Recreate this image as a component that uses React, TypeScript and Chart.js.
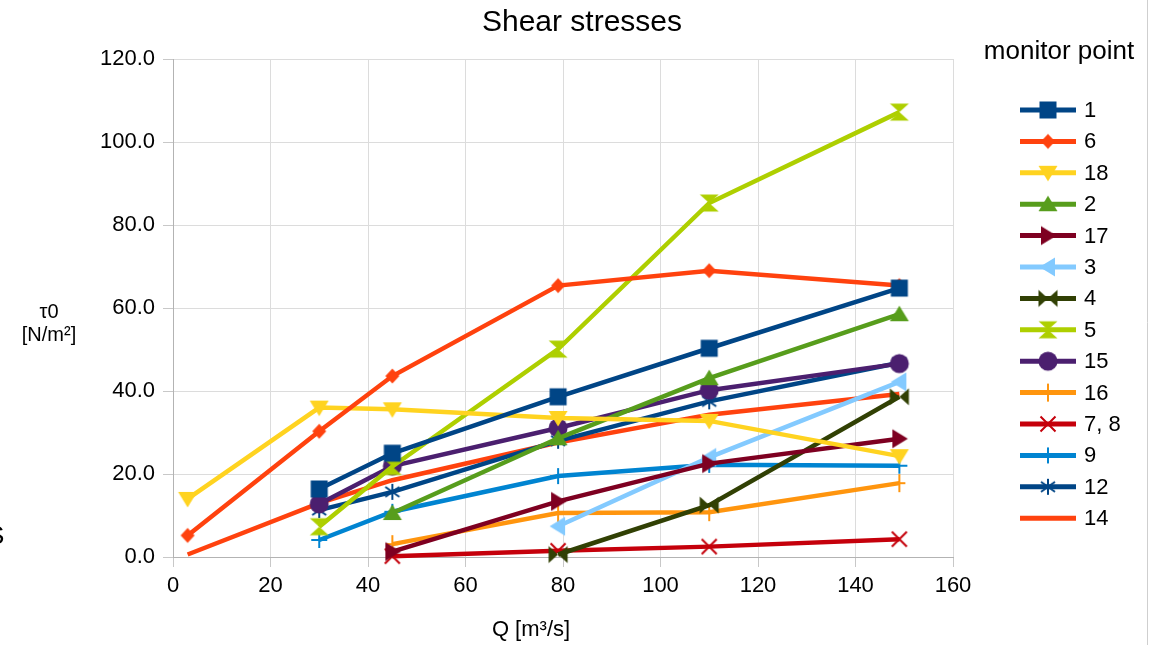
import React, { useEffect, useRef } from 'react';
import { Chart, registerables } from 'chart.js';

Chart.register(...registerables);

// ---- data ----
const discharge = [3, 30, 45, 79, 110, 149];
const xTickMin = 0;
const xTickMax = 160;
const xTickStep = 20;
const yTickMin = 0;
const yTickMax = 120;
const yTickStep = 20;

const tau1 = [null, 16.4, 25.0, 38.6, 50.3, 64.8];
const tau6 = [5.2, 30.3, 43.6, 65.4, 69.0, 65.4];
const tau18 = [14.0, 36.0, 35.6, 33.5, 32.8, 24.3];
const tau2 = [null, null, 10.6, 28.6, 43.1, 58.5];
const tau17 = [null, null, 1.3, 13.4, 22.5, 28.5];
const tau3 = [null, null, null, 7.4, 24.0, 42.2];
const tau4 = [null, null, null, 0.6, 12.5, 38.6];
const tau5 = [null, 7.3, 21.8, 50.1, 85.3, 107.2];
const tau15 = [null, 12.8, 21.9, 31.1, 40.2, 46.6];
const tau16 = [null, null, 3.1, 10.6, 10.8, 17.8];
const tau7_8 = [null, null, 0.2, 1.5, 2.5, 4.3];
const tau9 = [null, 4.1, 10.9, 19.5, 22.2, 22.0];
const tau12 = [null, 11.3, 15.7, 28.0, 37.5, 46.8];
const tau14 = [0.6, 13.0, 18.5, 27.6, 34.3, 39.3];

const seriesLabels = ['1', '6', '18', '2', '17', '3', '4', '5', '15', '16', '7, 8', '9', '12', '14'];
const seriesValues = [tau1, tau6, tau18, tau2, tau17, tau3, tau4, tau5, tau15, tau16, tau7_8, tau9, tau12, tau14];
const seriesColors = ['#004586', '#ff420e', '#ffd320', '#579d1c', '#7e0021', '#83caff', '#314004', '#aecf00', '#4b1f6f', '#ff950e', '#c5000b', '#0084d1', '#004586', '#ff420e'];
const seriesMarkers = ['square', 'diamond', 'triDown', 'triUp', 'triRight', 'triLeft', 'bowtie', 'hourglass', 'circle', 'plusTall', 'x', 'plus', 'asterisk', 'none'];

const chartTitle = 'Shear stresses';
const legendTitle = 'monitor point';
const yTitleLines = ['τ0', '[N/m²]'];
const xTitle = 'Q [m³/s]';

const FONT = '"Liberation Sans", Arial, sans-serif';

function poly(g: CanvasRenderingContext2D, pts: number[][]) {
  g.beginPath();
  g.moveTo(pts[0][0], pts[0][1]);
  for (let i = 1; i < pts.length; i++) g.lineTo(pts[i][0], pts[i][1]);
  g.closePath();
  g.fill();
}

function lines(g: CanvasRenderingContext2D, segs: number[][]) {
  g.beginPath();
  for (const s of segs) {
    g.moveTo(s[0], s[1]);
    g.lineTo(s[2], s[3]);
  }
  g.stroke();
}

function makeMarker(kind: string, color: string): HTMLCanvasElement | null {
  if (kind === 'none') return null;
  const S = 24;
  const c = document.createElement('canvas');
  c.width = S;
  c.height = S;
  const g = c.getContext('2d')!;
  g.translate(S / 2, S / 2);
  g.fillStyle = color;
  g.strokeStyle = color;
  g.lineWidth = 2;
  switch (kind) {
    case 'square':
      g.fillRect(-8.5, -8.5, 17, 17);
      break;
    case 'diamond':
      poly(g, [[0, -7.5], [7, 0], [0, 7.5], [-7, 0]]);
      break;
    case 'triDown':
      poly(g, [[-9.5, -7], [9.5, -7], [0, 8.5]]);
      break;
    case 'triUp':
      poly(g, [[-9.5, 7], [9.5, 7], [0, -8.5]]);
      break;
    case 'triRight':
      poly(g, [[-7, -9.5], [-7, 9.5], [8.5, 0]]);
      break;
    case 'triLeft':
      poly(g, [[7, -9.5], [7, 9.5], [-8.5, 0]]);
      break;
    case 'bowtie':
      poly(g, [[-9.5, -8.5], [0, 0], [-9.5, 8.5]]);
      poly(g, [[9.5, -8.5], [0, 0], [9.5, 8.5]]);
      break;
    case 'hourglass':
      poly(g, [[-9.5, -8.5], [9.5, -8.5], [0, 0]]);
      poly(g, [[-9.5, 8.5], [9.5, 8.5], [0, 0]]);
      break;
    case 'circle':
      g.beginPath();
      g.arc(0, 0, 9.5, 0, Math.PI * 2);
      g.fill();
      break;
    case 'plusTall':
      lines(g, [[-6, 0, 6, 0], [0, -9, 0, 9]]);
      break;
    case 'plus':
      lines(g, [[-8, 0, 8, 0], [0, -8, 0, 8]]);
      break;
    case 'x':
      lines(g, [[-7.5, -7.5, 7.5, 7.5], [-7.5, 7.5, 7.5, -7.5]]);
      break;
    case 'asterisk':
      lines(g, [[0, -8, 0, 8], [-7, -5, 7, 5], [-7, 5, 7, -5]]);
      break;
  }
  return c;
}

export default function App() {
  const ref = useRef<HTMLCanvasElement | null>(null);

  useEffect(() => {
    if (!ref.current) return;
    const markers = seriesMarkers.map((m, i) => makeMarker(m, seriesColors[i]));

    const datasets = seriesLabels.map((label, i) => ({
      label,
      data: discharge
        .map((q, j) => ({ x: q, y: seriesValues[i][j] }))
        .filter((p) => p.y !== null),
      borderColor: seriesColors[i],
      backgroundColor: seriesColors[i],
      borderWidth: 4.5,
      pointStyle: markers[i] || 'circle',
      pointRadius: markers[i] ? 9 : 0,
      pointHoverRadius: markers[i] ? 9 : 0,
      tension: 0,
      clip: false as any,
      showLine: true,
    }));

    const decorations = {
      id: 'decorations',
      afterDraw(chart: any) {
        const ctx = chart.ctx as CanvasRenderingContext2D;
        const a = chart.chartArea;
        ctx.save();
        ctx.fillStyle = '#000';

        // title
        ctx.font = `30px ${FONT}`;
        ctx.textAlign = 'center';
        ctx.textBaseline = 'middle';
        ctx.fillText(chartTitle, chart.width / 2 + 3, 23);

        // y axis title
        ctx.font = `20px ${FONT}`;
        const ym = (a.top + a.bottom) / 2;
        ctx.fillText(yTitleLines[0], a.left - 124, ym + 4);
        ctx.fillText(yTitleLines[1], a.left - 124, ym + 27);

        // x axis title
        ctx.font = `22px ${FONT}`;
        ctx.fillText(xTitle, a.left + 358, a.bottom + 73);

        // legend
        ctx.font = `26px ${FONT}`;
        ctx.fillText(legendTitle, a.right + 106, 52);
        ctx.font = `22px ${FONT}`;
        ctx.textAlign = 'left';
        const x0 = a.right + 67;
        const x1 = a.right + 123;
        seriesLabels.forEach((lab, i) => {
          const y = 110 + i * 31.4;
          ctx.strokeStyle = seriesColors[i];
          ctx.lineWidth = 5;
          ctx.beginPath();
          ctx.moveTo(x0, y);
          ctx.lineTo(x1, y);
          ctx.stroke();
          const mk = markers[i];
          if (mk) ctx.drawImage(mk, (x0 + x1) / 2 - mk.width / 2, y - mk.height / 2);
          ctx.fillStyle = '#000';
          ctx.fillText(lab, a.right + 131, y + 1);
        });

        // right border line
        ctx.strokeStyle = '#cfcfcf';
        ctx.lineWidth = 1;
        ctx.beginPath();
        ctx.moveTo(1147.5, 0);
        ctx.lineTo(1147.5, chart.height);
        ctx.stroke();

        // clipped fragment at left edge
        ctx.font = `26px ${FONT}`;
        ctx.textAlign = 'left';
        ctx.fillStyle = '#000';
        ctx.fillText('S', -13, 537);
        ctx.restore();
      },
    };

    const chart = new Chart(ref.current, {
      type: 'scatter',
      data: { datasets: datasets as any },
      options: {
        animation: false,
        responsive: true,
        maintainAspectRatio: false,
        layout: { padding: { left: 0, top: 59, right: 205, bottom: 48 } },
        plugins: {
          legend: { display: false },
          title: { display: false },
          tooltip: { enabled: false },
        },
        scales: {
          x: {
            type: 'linear',
            min: xTickMin,
            max: xTickMax,
            ticks: {
              stepSize: xTickStep,
              color: '#000',
              font: { family: FONT, size: 22 },
              padding: 6,
              maxRotation: 0,
            },
            grid: { color: '#dcdcdc', tickLength: 10, tickColor: '#c8c8c8' },
            border: { color: '#b3b3b3' },
            afterFit: (s: any) => {
              s.height = 40;
            },
          },
          y: {
            type: 'linear',
            min: yTickMin,
            max: yTickMax,
            ticks: {
              stepSize: yTickStep,
              color: '#000',
              font: { family: FONT, size: 22 },
              padding: 8,
              callback: (v: any) => Number(v).toFixed(1),
            },
            grid: { color: '#dcdcdc', tickLength: 10, tickColor: '#c8c8c8' },
            border: { color: '#b3b3b3' },
            afterFit: (s: any) => {
              s.width = 173;
            },
          },
        },
      },
      plugins: [decorations],
    });

    return () => chart.destroy();
  }, []);

  return (
    <div style={{ position: 'fixed', left: 0, top: 0, width: 1158, height: 645, background: '#fff' }}>
      <canvas ref={ref} />
    </div>
  );
}
